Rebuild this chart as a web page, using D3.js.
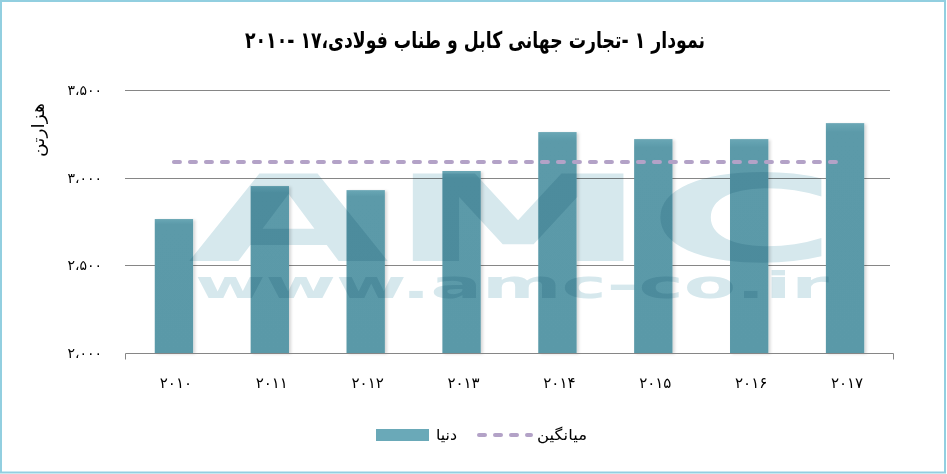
<!DOCTYPE html>
<html>
<head>
<meta charset="utf-8">
<script src="https://cdn.jsdelivr.net/npm/d3@7"></script>
<style>
  html, body { margin: 0; padding: 0; background: #fff; }
  svg { display: block; }
  text { font-family: "DejaVu Sans", sans-serif; }
</style>
</head>
<body>
<svg id="chart" width="947" height="474"></svg>
<script>
// ---- data ----
const years = [2010, 2011, 2012, 2013, 2014, 2015, 2016, 2017];
const worldValues = [2764, 2952, 2929, 3038, 3260, 3220, 3220, 3311];
const averageValues = [3089, 3089, 3089, 3089, 3089, 3089, 3089, 3089];
const yTicks = [2000, 2500, 3000, 3500];
const titleText = "نمودار ۱ -تجارت جهانی کابل و طناب فولادی،۱۷ -۲۰۱۰";
const yAxisLabel = "هزارتن";
const seriesNames = ["دنیا", "میانگین"];
const watermarkLines = ["AMC", "www.amc-co.ir"];

const faDigits = "۰۱۲۳۴۵۶۷۸۹";
const toFa = s => String(s).replace(/[0-9]/g, d => faDigits[+d]);
const fmtTick = v => toFa(d3.format(",")(v)).replace(/,/g, "،");

const svg = d3.select("#chart");
const W = 947, H = 474;

// border
svg.append("rect").attr("x", 1).attr("y", 1).attr("width", W - 3).attr("height", H - 2.5)
  .attr("fill", "#fff").attr("stroke", "#92cfe0").attr("stroke-width", 2);

const x = d3.scaleBand().domain(years).range([126, 893]).paddingInner(0.6).paddingOuter(0.3);
const y = d3.scaleLinear().domain([2000, 3500]).range([353, 90]);

const defs = svg.append("defs");
const grad = defs.append("linearGradient").attr("id", "barGrad").attr("x1", 0).attr("y1", 0).attr("x2", 0).attr("y2", 1);
grad.append("stop").attr("offset", "0%").attr("stop-color", "#6aa7b5");
grad.append("stop").attr("offset", "4%").attr("stop-color", "#5b9aa9");
grad.append("stop").attr("offset", "100%").attr("stop-color", "#5a99a8");
const sh = defs.append("filter").attr("id", "shadow").attr("x", "-20%").attr("y", "-5%").attr("width", "160%").attr("height", "110%");
sh.append("feDropShadow").attr("dx", 2).attr("dy", 1).attr("stdDeviation", 1.5).attr("flood-color", "#000").attr("flood-opacity", 0.16);

// gridlines
svg.append("g").selectAll("line").data(yTicks.filter(t => t !== 2000)).join("line")
  .attr("x1", 125).attr("x2", 890)
  .attr("y1", d => Math.round(y(d)) + 0.5).attr("y2", d => Math.round(y(d)) + 0.5)
  .attr("stroke", "#868686").attr("stroke-width", 1);

// y tick labels
svg.append("g").selectAll("text").data(yTicks).join("text")
  .attr("x", 102).attr("y", d => y(d)).attr("dy", "0.35em")
  .attr("text-anchor", "end").attr("font-size", 14).attr("letter-spacing", 3).attr("fill", "#000")
  .text(d => fmtTick(d));

// bars
svg.append("g").selectAll("rect").data(worldValues).join("rect")
  .attr("x", (d, i) => x(years[i]))
  .attr("width", x.bandwidth())
  .attr("y", d => y(d))
  .attr("height", d => y(2000) - y(d))
  .attr("fill", "url(#barGrad)")
  .attr("filter", "url(#shadow)");

// watermark (one text element, two lines)
const wm = svg.append("text").style("mix-blend-mode", "multiply").attr("fill", "#d6e8ed").attr("font-weight", "bold");
wm.append("tspan").attr("x", 188).attr("y", 261)
  .attr("font-size", 120)
  .attr("textLength", 650).attr("lengthAdjust", "spacingAndGlyphs")
  .text(watermarkLines[0]);
wm.append("tspan").attr("x", 195).attr("y", 298)
  .attr("font-size", 38)
  .attr("textLength", 634).attr("lengthAdjust", "spacingAndGlyphs")
  .text(watermarkLines[1]);

// average line
const line = d3.line().x((d, i) => x(years[i]) + x.bandwidth() / 2).y(d => y(d));
svg.append("path").datum(averageValues).attr("d", line)
  .attr("fill", "none").attr("stroke", "#b3a2c7").attr("stroke-width", 4)
  .attr("stroke-linecap", "round").attr("stroke-dasharray", "6 10");

// x axis
const xAxisY = Math.round(y(2000)) + 0.5;
svg.append("line").attr("x1", 125.5).attr("x2", 893.5).attr("y1", xAxisY).attr("y2", xAxisY)
  .attr("stroke", "#868686");
[125.5, 893.5].forEach(xx => svg.append("line").attr("x1", xx).attr("x2", xx)
  .attr("y1", xAxisY).attr("y2", xAxisY + 6).attr("stroke", "#868686"));

svg.append("g").selectAll("text").data(years).join("text")
  .attr("x", d => x(d) + x.bandwidth() / 2 + 2).attr("y", 383).attr("dy", "0.35em")
  .attr("text-anchor", "middle").attr("font-size", 15).attr("letter-spacing", 4).attr("fill", "#000")
  .text(d => toFa(d));

// title
svg.append("text").attr("x", 475).attr("y", 40).attr("dy", "0.35em")
  .attr("text-anchor", "middle").attr("direction", "rtl")
  .attr("font-size", 23).attr("font-weight", "bold").attr("fill", "#000")
  .attr("textLength", 460).attr("lengthAdjust", "spacingAndGlyphs")
  .text(titleText);

// y axis label
svg.append("text").attr("transform", "translate(38,130) rotate(-90)")
  .attr("text-anchor", "middle").attr("dy", "0.35em")
  .attr("font-size", 17).attr("fill", "#000")
  .attr("textLength", 54).attr("lengthAdjust", "spacingAndGlyphs")
  .text(yAxisLabel);

// legend
svg.append("rect").attr("x", 376).attr("y", 429).attr("width", 53).attr("height", 12).attr("fill", "#6aa9b8");
svg.append("text").attr("x", 436).attr("y", 435).attr("dy", "0.35em").attr("font-size", 15)
  .attr("textLength", 21).attr("lengthAdjust", "spacingAndGlyphs").text(seriesNames[0]);
svg.append("line").attr("x1", 479).attr("x2", 531).attr("y1", 435).attr("y2", 435)
  .attr("stroke", "#b3a2c7").attr("stroke-width", 4).attr("stroke-linecap", "round").attr("stroke-dasharray", "6 10");
svg.append("text").attr("x", 537).attr("y", 435).attr("dy", "0.35em").attr("font-size", 15)
  .attr("textLength", 50).attr("lengthAdjust", "spacingAndGlyphs").text(seriesNames[1]);
</script>
</body>
</html>
